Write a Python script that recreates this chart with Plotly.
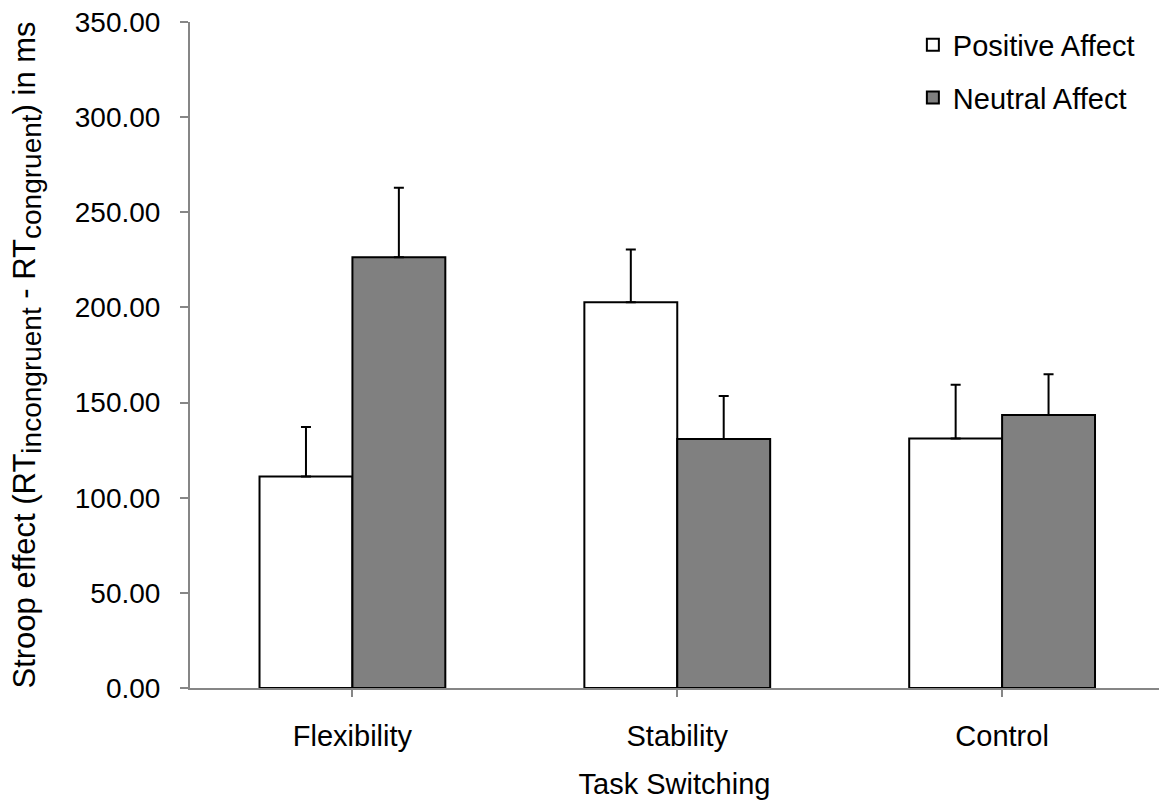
import plotly.graph_objects as go

categories = ["Flexibility", "Stability", "Control"]
positive_values = [111.1, 202.7, 131.1]
positive_errors = [26.0, 27.7, 28.2]
neutral_values = [226.4, 130.9, 143.5]
neutral_errors = [36.5, 22.5, 21.4]
y_ticks = [0, 50, 100, 150, 200, 250, 300, 350]
y_tick_labels = [f"{v:.2f}" for v in y_ticks]

FONT = "Arial, 'Liberation Sans', sans-serif"
AXIS_GRAY = "#868686"

fig = go.Figure()
fig.add_trace(go.Bar(
    name="Positive Affect", x=categories, y=positive_values,
    legendgroup="pos",
    marker=dict(color="white", line=dict(color="black", width=2)),
    error_y=dict(type="data", symmetric=False, array=positive_errors,
                 arrayminus=[0] * len(positive_errors),
                 color="black", thickness=2, width=5),
))
fig.add_trace(go.Bar(
    name="Neutral Affect", x=categories, y=neutral_values,
    legendgroup="neu",
    marker=dict(color="#808080", line=dict(color="black", width=2)),
    error_y=dict(type="data", symmetric=False, array=neutral_errors,
                 arrayminus=[0] * len(neutral_errors),
                 color="black", thickness=2, width=5),
))

fig.update_layout(
    width=1159, height=800,
    barmode="group", bargap=0.428, bargroupgap=0,
    margin=dict(l=190, r=0, t=22, b=112, autoexpand=False),
    plot_bgcolor="white", paper_bgcolor="white",
    font=dict(family=FONT, size=28, color="black"),
    legend=dict(x=0.746, y=1.004, xanchor="left", yanchor="top",
                font=dict(size=29), bgcolor="rgba(0,0,0,0)",
                traceorder="grouped", tracegroupgap=12),
    xaxis=dict(
        type="category", range=[-0.5, 2.483],
        showline=True, linecolor=AXIS_GRAY, linewidth=2,
        ticks="outside", ticklen=7, tickwidth=2, tickcolor=AXIS_GRAY,
        tickfont=dict(size=29), ticklabelstandoff=14,
        showgrid=False, zeroline=False,
        title=dict(text="Task Switching", font=dict(size=29), standoff=27),
        automargin=False,
    ),
    yaxis=dict(
        range=[0, 350], tickvals=y_ticks, ticktext=y_tick_labels,
        showline=True, linecolor=AXIS_GRAY, linewidth=2,
        ticks="outside", ticklen=8, tickwidth=2, tickcolor=AXIS_GRAY,
        tickfont=dict(size=28), ticklabelstandoff=14,
        showgrid=False, zeroline=False,
        title=dict(
            text="Stroop effect (RT<sub><span style=\"font-size:28px\">incongruent</span></sub>"
                 " - RT<sub><span style=\"font-size:28px\">congruent</span></sub>) in ms",
            font=dict(size=31), standoff=30),
        automargin=False,
    ),
)

fig.write_html("out.html")
